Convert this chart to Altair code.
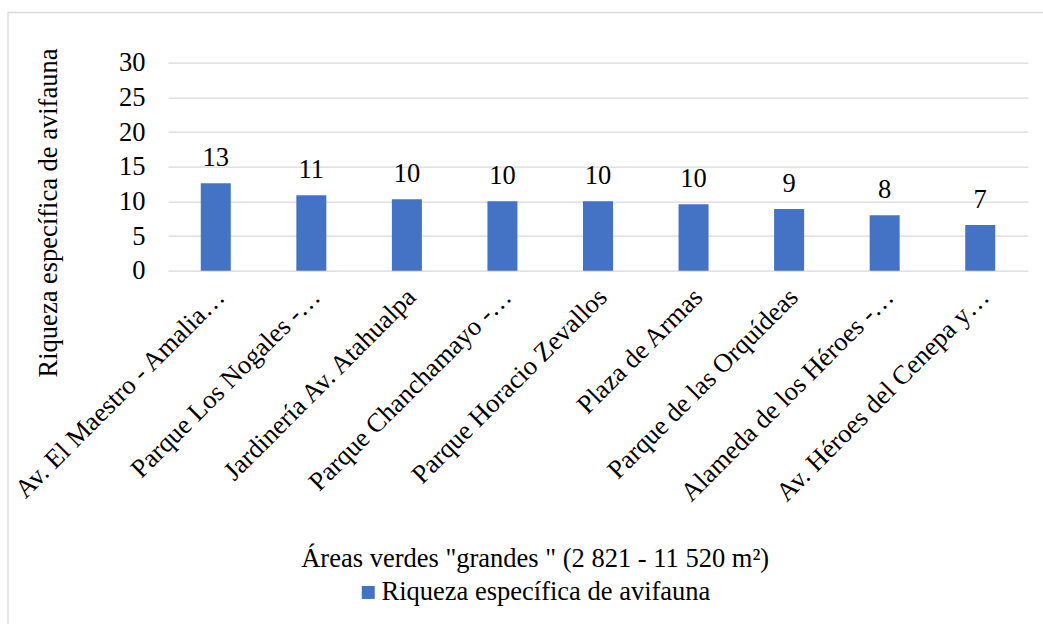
import altair as alt
import pandas as pd

# Green areas ("grandes") and their bird species richness
areas = [
    "Av. El Maestro - Amalia…",
    "Parque Los Nogales -…",
    "Jardinería Av. Atahualpa",
    "Parque Chanchamayo -…",
    "Parque Horacio Zevallos",
    "Plaza de Armas",
    "Parque de las Orquídeas",
    "Alameda de los Héroes -…",
    "Av. Héroes del Cenepa y…",
]
riqueza = [12.6, 10.9, 10.3, 10.0, 10.0, 9.6, 8.9, 8.0, 6.6]
serie = "Riqueza específica de avifauna"
y_ticks = [0, 5, 10, 15, 20, 25, 30]
x_title = 'Áreas verdes "grandes " (2 821 - 11 520 m²)'

df = pd.DataFrame({"area": areas, "riqueza": riqueza, "serie": [serie] * len(areas)})

FONT = "Liberation Serif"
FS = 26.5
GRID = "#d9d9d9"
BAR = "#4472C4"

x_enc = alt.X(
    "area:N",
    sort=None,
    scale=alt.Scale(paddingInner=0.686, paddingOuter=0.343),
    axis=alt.Axis(
        title=x_title,
        labelAngle=-45,
        labelAlign="right",
        labelBaseline="alphabetic",
        labelOffset=10.5,
        labelPadding=27.5,
        labelLimit=0,
        labelOverlap=False,
        ticks=False,
        tickSize=0,
        domain=False,
        labelFont=FONT,
        labelFontSize=FS,
        labelColor="black",
        titleFont=FONT,
        titleFontSize=FS,
        titleFontWeight="normal",
        titleColor="black",
        titleX=366.7,
        titleY=295.3,
        titleAlign="center",
        titleBaseline="alphabetic",
    ),
)

y_enc = alt.Y(
    "riqueza:Q",
    scale=alt.Scale(domain=[0, 30], nice=False),
    axis=alt.Axis(
        values=y_ticks,
        title=serie,
        grid=True,
        gridColor=GRID,
        gridWidth=1.3,
        domain=False,
        ticks=False,
        tickSize=0,
        labelPadding=23,
        labelFont=FONT,
        labelFontSize=FS,
        labelColor="black",
        titleFont=FONT,
        titleFontSize=FS,
        titleFontWeight="normal",
        titleColor="black",
        titleAngle=270,
        titleX=-111.5,
        titleY=149.8,
        titleAlign="center",
        titleBaseline="alphabetic",
    ),
)

color_enc = alt.Color(
    "serie:N",
    scale=alt.Scale(range=[BAR]),
    legend=alt.Legend(
        title=None,
        orient="none",
        legendX=187,
        legendY=516.5,
        padding=0,
        symbolType="square",
        symbolSize=169,
        symbolStrokeWidth=0,
        labelFont=FONT,
        labelFontSize=FS,
        labelColor="black",
        labelOffset=0,
        labelLimit=0,
    ),
)

base = alt.Chart(df)

bars = base.mark_bar().encode(x=x_enc, y=y_enc, color=color_enc)

labels = base.mark_text(
    baseline="alphabetic", dy=-17.3, fontSize=FS, font=FONT, color="black"
).encode(x=x_enc, y=y_enc, text=alt.Text("riqueza:Q", format=".0f"))

# light outer frame around the whole figure
frame = alt.Chart(pd.DataFrame({"k": [0]})).mark_rect(
    fillOpacity=0, stroke=GRID, strokeWidth=1.3
).encode(
    x=alt.value(-160), x2=alt.value(900), y=alt.value(-50.2), y2=alt.value(600)
)

chart = (
    alt.layer(frame, bars, labels)
    .properties(
        width=860,
        height=208,
        autosize="none",
        padding={"left": 168, "top": 62.7, "right": 15, "bottom": 353.3},
        background="white",
    )
    .configure(font=FONT)
    .configure_view(strokeWidth=0)
)

chart.save("out.html", embed_options={"renderer": "svg", "actions": False})
